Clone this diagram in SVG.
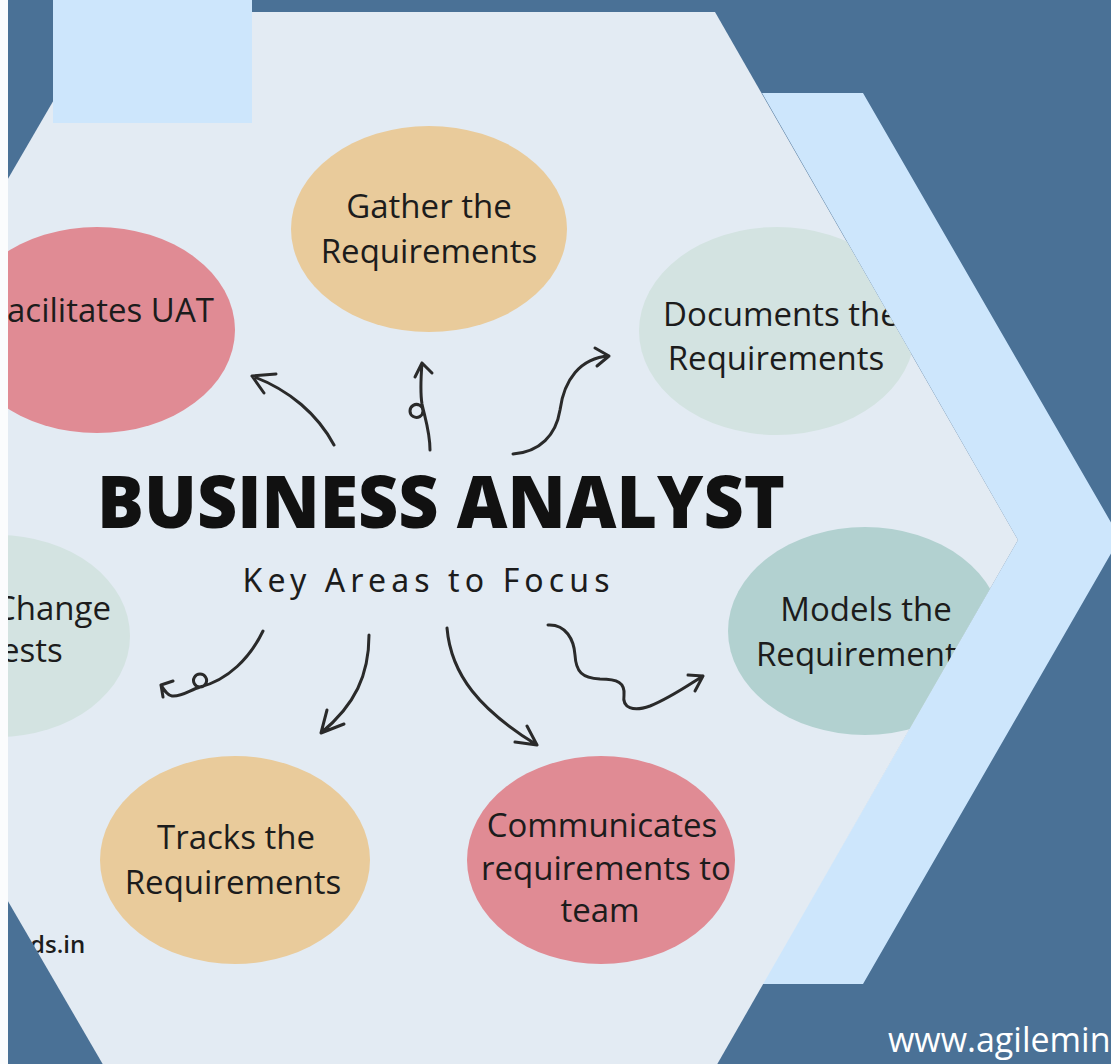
<svg xmlns="http://www.w3.org/2000/svg" width="1111" height="1064" viewBox="0 0 1111 1064">
<defs>
<style>
.lbl{font-family:"Open Sans","Noto Sans","Liberation Sans",sans-serif;font-size:33px;fill:#1c1c1c;text-anchor:middle}
.lbl-l{font-family:"Open Sans","Noto Sans","Liberation Sans",sans-serif;font-size:33px;fill:#1c1c1c}
.conn{fill:none;stroke:#2a2a2a;stroke-width:3;stroke-linecap:round;stroke-linejoin:round}
</style>
<clipPath id="hexclip">
<polygon points="105,12 715,12 1018,540 715,1068 105,1068 -202,540"/>
</clipPath>
</defs>
<rect id="bg" x="0" y="0" width="1111" height="1064" fill="#4a7196"/>
<polygon id="band" points="762,93 863,93 1120,538 863,984 762,984 1018,540" fill="#cde6fc"/>
<polygon id="hexagon" points="105,12 715,12 1018,540 715,1068 105,1068 -202,540" fill="#e3ebf3"/>
<rect id="corner-rect" x="53" y="0" width="199" height="123" fill="#cde6fc"/>

<g clip-path="url(#hexclip)">
<g id="node-gather">
<ellipse cx="429" cy="229" rx="138" ry="103" fill="#e9cb9b"/>
<text class="lbl" x="429" y="218">Gather the</text>
<text class="lbl" x="429" y="263">Requirements</text>
</g>
<g id="node-uat">
<ellipse cx="97" cy="330" rx="138" ry="103" fill="#e08b94"/>
<text class="lbl-l" x="7" y="322" font-size="32">acilitates UAT</text>
</g>
<g id="node-documents">
<ellipse cx="777" cy="331" rx="138" ry="104" fill="#d3e3e1"/>
<text class="lbl" x="781" y="326">Documents the</text>
<text class="lbl" x="776" y="370">Requirements</text>
</g>
<g id="node-change">
<ellipse cx="-2" cy="636" rx="132" ry="101" fill="#d3e3e1"/>
<text class="lbl-l" x="-5" y="620">Change</text>
<text class="lbl-l" x="1" y="662">ests</text>
</g>
<g id="node-models">
<ellipse cx="865" cy="631" rx="137" ry="104" fill="#b2d1d0"/>
<text class="lbl" x="866" y="621">Models the</text>
<text class="lbl-l" x="756" y="666">Requirement</text>
</g>
<g id="node-tracks">
<ellipse cx="235" cy="860" rx="135" ry="104" fill="#e9cb9b"/>
<text class="lbl" x="236" y="849">Tracks the</text>
<text class="lbl" x="233" y="894">Requirements</text>
</g>
<g id="node-communicates">
<ellipse cx="601" cy="860" rx="134" ry="104" fill="#e08b94"/>
<text class="lbl" x="602" y="837" font-size="32">Communicates</text>
<text class="lbl" x="606" y="880" font-size="32">requirements to</text>
<text class="lbl" x="600" y="922" font-size="32">team</text>
</g>
<text id="footer-left" x="30" y="953" font-family="Open Sans, Noto Sans, sans-serif" font-size="24" font-weight="600" fill="#1c1c1c">ds.in</text>
</g>

<rect id="edge-strip" x="0" y="0" width="8" height="1064" fill="#fbfcfd"/>

<g id="title">
<text x="441" y="528" font-family="Open Sans, Noto Sans, sans-serif" font-size="72" font-weight="800" fill="#111" text-anchor="middle" textLength="688" lengthAdjust="spacingAndGlyphs">BUSINESS ANALYST</text>
<text x="426" y="592" font-family="Noto Sans, DejaVu Sans, sans-serif" font-size="32" font-weight="400" fill="#1c1c1c" text-anchor="middle" textLength="367" lengthAdjust="spacing">Key Areas to Focus</text>
</g>

<g id="connectors">
<path id="c-uat" class="conn" d="M334,445 C318,415 290,390 252,376 M252,376 L276,374 M252,376 L264,393"/>
<path id="c-gather" class="conn" d="M430,450 C430,432 425,418 422,404 C420,392 421,376 422,363 M423,411 a6.5,6.5 0 1,1 0,-0.1 M422,363 L415,377 M422,363 L432,373"/>
<path id="c-documents" class="conn" d="M513,454 C540,452 556,435 560,410 C564,380 580,358 609,356 M609,356 L595,348 M609,356 L597,366"/>
<path id="c-change" class="conn" d="M263,631 C250,658 228,680 200,687 C190,690 182,697 172,696 C167,695 164,690 161,685 M200,687 a6.5,6.5 0 1,1 0.1,0 M161,685 L173,681 M161,685 L163,697"/>
<path id="c-tracks" class="conn" d="M369,635 C369,675 355,705 321,733 M321,733 L327,710 M321,733 L344,724"/>
<path id="c-communicates" class="conn" d="M447,628 C451,675 480,710 537,745 M537,745 L527,726 M537,745 L515,742"/>
<path id="c-models" class="conn" d="M548,625 C566,624 574,640 575,655 C576,672 582,678 600,679 C618,679 625,683 624,695 C622,708 633,712 650,706 C670,698 690,684 703,676 M703,676 L688,675 M703,676 L695,691"/>
</g>

<text id="footer-right" x="888" y="1052" font-family="Open Sans, Noto Sans, sans-serif" font-size="34" fill="#ffffff">www.agilemin</text>
</svg>
